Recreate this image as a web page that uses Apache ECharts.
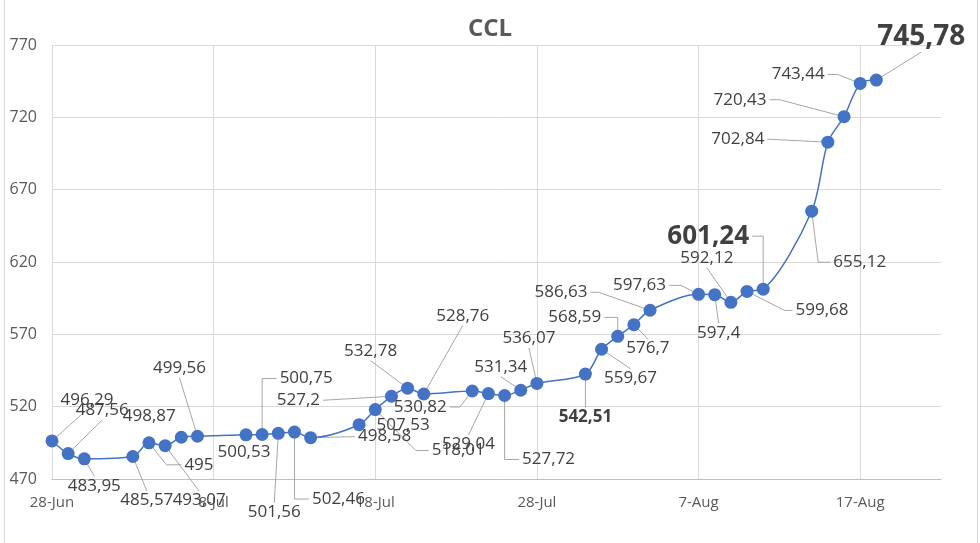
<!DOCTYPE html>
<html>
<head>
<meta charset="utf-8">
<title>CCL</title>
<script src="https://cdn.jsdelivr.net/npm/echarts@6/dist/echarts.min.js"></script>
<style>
    html, body { margin: 0; padding: 0; background: #fff; }
    #frame { position: absolute; left: 4px; top: 0; width: 972px; height: 543px;
             border-left: 1px solid #d9d9d9; border-right: 1px solid #d9d9d9; }
    #main { position: absolute; left: 0; top: 0; width: 980px; height: 543px; }
</style>
</head>
<body>
<div id="frame"></div>
<div id="main"></div>
<script>
    // cotizaciones CCL (dias habiles)
    var dates = [
        '2023-06-28', '2023-06-29', '2023-06-30',
        '2023-07-03', '2023-07-04', '2023-07-05', '2023-07-06', '2023-07-07',
        '2023-07-10', '2023-07-11', '2023-07-12', '2023-07-13', '2023-07-14',
        '2023-07-17', '2023-07-18', '2023-07-19', '2023-07-20', '2023-07-21',
        '2023-07-24', '2023-07-25', '2023-07-26', '2023-07-27', '2023-07-28',
        '2023-07-31', '2023-08-01', '2023-08-02', '2023-08-03', '2023-08-04',
        '2023-08-07', '2023-08-08', '2023-08-09', '2023-08-10', '2023-08-11',
        '2023-08-14', '2023-08-15', '2023-08-16', '2023-08-17', '2023-08-18'
    ];
    var values = [
        496.29, 487.56, 483.95,
        485.57, 495, 493.07, 498.87, 499.56,
        500.53, 500.75, 501.56, 502.46, 498.58,
        507.53, 518.01, 527.2, 532.78, 528.76,
        530.82, 529.04, 527.72, 531.34, 536.07,
        542.51, 559.67, 568.59, 576.7, 586.63,
        597.63, 597.4, 592.12, 599.68, 601.24,
        655.12, 702.84, 720.43, 743.44, 745.78
    ];
    var xTickLabels = ['28-Jun', '8-Jul', '18-Jul', '28-Jul', '7-Aug', '17-Aug'];
    var yTicks = [470, 520, 570, 620, 670, 720, 770];

    // posicion de las etiquetas (desplazamiento del centro respecto al punto)
    var labelOffsets = [
        [35, -41], [34, -43], [10, 27],
        [14, 44], [50, 22], [34, 55], [-32, -21], [-18, -68],
        [-2, 17], [44, -56], [-4, 79], [44, 67], [74, -1],
        [44, 0], [83, 41], [-93, 4], [-37, -37], [39, -78],
        [-52, 16], [-20, 51], [44, 64], [-20, -23], [-8, -45],
        [0, 43], [29, 29], [-43, -19], [14, 24], [-89, -18],
        [-59, -9], [4, 38], [-24, -44], [75, 19], [-55, -53],
        [48, 51], [-90, -3], [-104, -17], [-62, -9], [45, -43]
    ];
    // lado de la etiqueta donde llega la guia ('' = sin guia)
    var leaderSide = [
        'b', 'b', 't',
        't', 'l', 't', '', 'b',
        '', 'l', 't', 'l', 'l',
        '', 'l', 'r', 'b', 'b',
        'r', 't', 'l', 'b', 'b',
        't', 't', 'r', 't', 'r',
        'r', 't', 'b', 'l', 'r',
        'l', 'r', 'r', 'r', 'b'
    ];
    // quiebre: 0 recta, 'v' vertical y luego horizontal, n tramo horizontal de n px
    var leaderKnee = [
        0, 0, 0,
        0, 15, 0, 0, 0,
        0, 'v', 0, 'v', 0,
        0, 13, 0, 0, 0,
        10, 0, 'v', 0, 0,
        0, 0, 'v', 0, 8,
        12, 0, 0, 8, 'v',
        12, 0, 10, 10, 0
    ];
    var labelFont = '"Open Sans", "Noto Sans", sans-serif';
    var labelSize = 17;
    var boldLabels = {23: 17, 32: 26, 37: 28};

    function labelText(v) {
        return String(v).replace('.', ',');
    }

    var start = Date.parse(dates[0]);
    var seriesData = [];
    for (var i = 0; i < dates.length; i++) {
        var day = (Date.parse(dates[i]) - start) / 86400000;
        var item = {value: [day, values[i]]};
        if (boldLabels[i]) {
            item.label = {fontWeight: 'bold', fontSize: boldLabels[i]};
        }
        seriesData.push(item);
    }

    var measureCtx = document.createElement('canvas').getContext('2d');

    // guias de las etiquetas, desde el punto hasta el borde del texto
    function renderLeader(params, api) {
        var idx = params.dataIndex;
        var side = leaderSide[idx];
        if (!side) return;
        var knee = leaderKnee[idx];
        var pc = api.coord([api.value(0), api.value(1)]);
        var size = boldLabels[idx] || labelSize;
        measureCtx.font = (boldLabels[idx] ? 'bold ' : '') + size + 'px ' + labelFont;
        var w = measureCtx.measureText(labelText(values[idx])).width;
        var h = size + 2;
        var cx = pc[0] + labelOffsets[idx][0];
        var cy = pc[1] + labelOffsets[idx][1];
        var a;
        if (side === 'b') a = [cx, cy + h / 2];
        else if (side === 't') a = [cx, cy - h / 2];
        else if (side === 'l') a = [cx - w / 2 - 3, cy];
        else a = [cx + w / 2 + 3, cy];
        var pts = [pc];
        if (knee === 'v') {
            pts.push([pc[0], a[1]]);
        } else if (knee) {
            pts.push([side === 'l' ? a[0] - knee : a[0] + knee, a[1]]);
        }
        pts.push(a);
        return {
            type: 'polyline',
            shape: {points: pts},
            style: {stroke: '#a6a6a6', fill: null, lineWidth: 1}
        };
    }

    var myChart = echarts.init(document.getElementById('main'));
    var options = {
        animation: false,
        textStyle: {fontFamily: labelFont},
        title: {
            text: 'CCL',
            left: 'center',
            top: 12,
            textStyle: {color: '#595959', fontSize: 24, fontWeight: 'bold', fontFamily: labelFont}
        },
        grid: {
            left: 52,
            right: 39,
            top: 45,
            bottom: 64
        },
        xAxis: {
            type: 'value',
            min: 0,
            max: 55,
            interval: 10,
            axisLine: {show: true, lineStyle: {color: '#bfbfbf', width: 1}},
            axisTick: {show: false},
            axisLabel: {
                color: '#595959',
                fontSize: 15,
                margin: 16,
                showMaxLabel: false,
                formatter: function (v) {
                    return xTickLabels[v / 10] || '';
                }
            },
            splitLine: {show: true, showMinLine: true, showMaxLine: false, lineStyle: {color: '#d9d9d9', width: 1}}
        },
        yAxis: {
            type: 'value',
            min: yTicks[0],
            max: yTicks[yTicks.length - 1],
            interval: yTicks[1] - yTicks[0],
            axisLine: {show: false},
            axisTick: {show: false},
            axisLabel: {color: '#595959', fontSize: 16, margin: 15},
            splitLine: {show: true, lineStyle: {color: '#d9d9d9', width: 1}}
        },
        series: [{
            name: 'guias',
            type: 'custom',
            z: 1,
            silent: true,
            renderItem: renderLeader,
            data: seriesData.map(function (d) { return d.value; })
        }, {
            name: 'CCL',
            type: 'line',
            z: 3,
            smooth: 0.3,
            symbol: 'circle',
            symbolSize: 13,
            itemStyle: {color: '#4472c4'},
            lineStyle: {color: '#4472c4', width: 1.5},
            label: {
                show: true,
                position: 'inside',
                color: '#404040',
                fontSize: labelSize,
                formatter: function (p) {
                    return labelText(p.value[1]);
                }
            },
            labelLayout: function (p) {
                var o = labelOffsets[p.dataIndex];
                return {dx: o[0], dy: o[1]};
            },
            data: seriesData
        }]
    };
    myChart.setOption(options);
</script>
</body>
</html>
